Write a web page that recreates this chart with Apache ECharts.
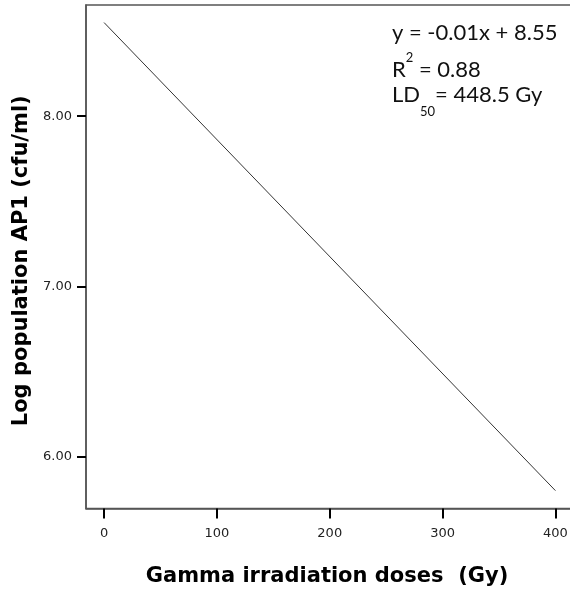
<!DOCTYPE html>
<html>
<head>
<meta charset="utf-8">
<script src="https://cdn.jsdelivr.net/npm/echarts@6/dist/echarts.min.js"></script>
<style>
  html, body { margin: 0; padding: 0; background: #fff; }
  #chart { width: 570px; height: 593px; }
</style>
</head>
<body>
<div id="chart"></div>
<script>
// fitted regression line
const doses = [0, 400]
const logPop = [8.55, 5.80]
const xTicks = [0, 100, 200, 300, 400]
const yTicks = [6, 7, 8]

const chart = echarts.init(document.getElementById('chart'))

const option = {
  animation: false,
  grid: {
    left: 86,
    top: 5,
    right: -8,
    bottom: 84.5,
    show: true,
    borderColor: '#555',
    borderWidth: 1.5,
    outerBoundsMode: 'none'
  },
  xAxis: {
    type: 'value',
    min: -16,
    max: 420,
    name: 'Gamma irradiation doses  (Gy)',
    nameLocation: 'middle',
    nameGap: 58,
    nameTextStyle: {
      fontFamily: 'DejaVu Sans',
      fontWeight: 'bold',
      fontSize: 21,
      color: '#000',
      padding: [0, 10, 0, 0]
    },
    axisLine: { show: true, onZero: false, lineStyle: { color: '#555', width: 1.5 } },
    axisTick: {
      show: true,
      customValues: xTicks,
      length: 10,
      lineStyle: { color: '#000', width: 2 }
    },
    axisLabel: {
      customValues: xTicks,
      margin: 19,
      fontFamily: 'DejaVu Sans',
      fontSize: 13,
      color: '#222'
    },
    splitLine: { show: false }
  },
  yAxis: {
    type: 'value',
    min: 5.695,
    max: 8.653,
    name: 'Log population AP1 (cfu/ml)',
    nameLocation: 'middle',
    nameGap: 53,
    nameTextStyle: {
      fontFamily: 'DejaVu Sans',
      fontWeight: 'bold',
      fontSize: 21,
      color: '#000',
      padding: [0, 8, 0, 0]
    },
    axisLine: { show: true, onZero: false, lineStyle: { color: '#555', width: 1.5 } },
    axisTick: {
      show: true,
      customValues: yTicks,
      length: 9,
      lineStyle: { color: '#000', width: 2 }
    },
    axisLabel: {
      customValues: yTicks,
      margin: 14,
      fontFamily: 'DejaVu Sans',
      fontSize: 13,
      color: '#222',
      formatter: v => v.toFixed(2)
    },
    splitLine: { show: false }
  },
  series: [
    {
      type: 'line',
      data: doses.map((d, i) => [d, logPop[i]]),
      showSymbol: false,
      lineStyle: { color: '#333', width: 1 },
      silent: true
    }
  ],
  graphic: [
    {
      type: 'text',
      left: 392,
      top: 22,
      style: {
        text: 'y = -0.01x + 8.55',
        font: '22px Lato',
        fill: '#111'
      }
    },
    {
      type: 'text',
      left: 392,
      top: 51,
      style: {
        text: '{a|R}{s|2}{a| = 0.88}',
        fill: '#111',
        rich: {
          a: { fontFamily: 'Lato', fontSize: 22, lineHeight: 38 },
          s: { fontFamily: 'Lato', fontSize: 13, lineHeight: 13, verticalAlign: 'top' }
        }
      }
    },
    {
      type: 'text',
      left: 392,
      top: 84,
      style: {
        text: '{a|LD}{b|50}{a|= 448.5 Gy}',
        fill: '#111',
        rich: {
          a: { fontFamily: 'Lato', fontSize: 22, lineHeight: 46 },
          b: { fontFamily: 'Lato', fontSize: 13, lineHeight: 13, verticalAlign: 'bottom' }
        }
      }
    }
  ]
}

chart.setOption(option)
</script>
</body>
</html>
